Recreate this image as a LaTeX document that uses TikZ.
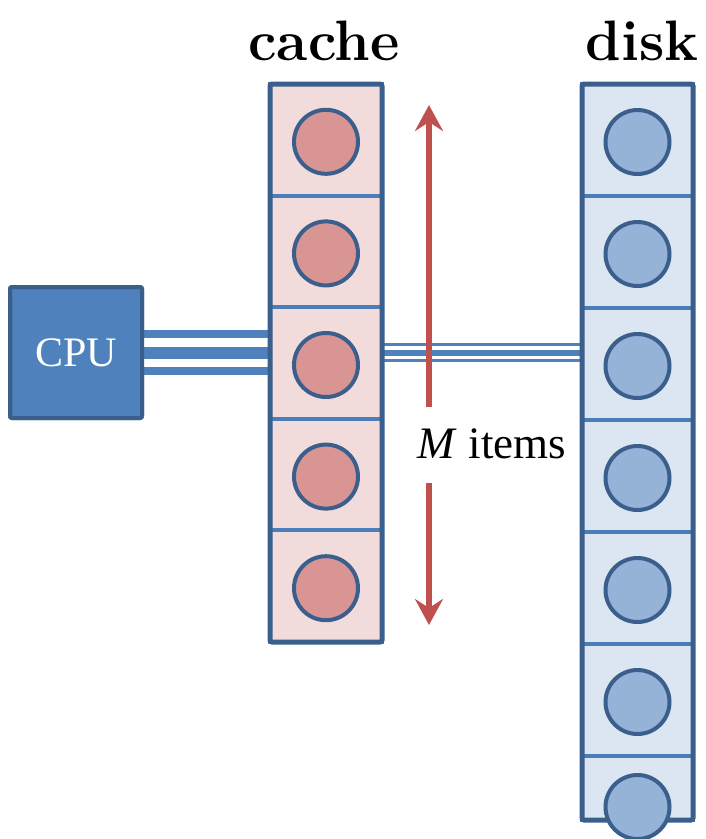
\documentclass[tikz,border=0pt]{standalone}
\usepackage{fontspec}
\newfontfamily\labelfont{Liberation Serif}
\usetikzlibrary{arrows.meta,fit}

\definecolor{frameblue}{HTML}{3B5F8C}
\definecolor{ruleblue}{HTML}{4A7EBB}
\definecolor{cpublue}{HTML}{4F81BD}
\definecolor{cachefill}{HTML}{F2DCDB}
\definecolor{cachedot}{HTML}{D99594}
\definecolor{diskfill}{HTML}{DCE6F2}
\definecolor{diskdot}{HTML}{95B3D7}
\definecolor{spanred}{HTML}{C0504D}

\begin{document}
\begin{tikzpicture}[x=1pt,y=-1pt,
  cachecell/.style={draw=ruleblue, fill=cachefill, line width=4pt,
    minimum width=112pt, minimum height=111.6pt, inner sep=0pt, outer sep=0pt},
  diskcell/.style={draw=ruleblue, fill=diskfill, line width=4pt,
    minimum width=111pt, minimum height=112pt, inner sep=0pt, outer sep=0pt},
  frame/.style={draw=frameblue, line width=5pt, rounded corners=2pt,
    inner sep=0pt, outer sep=0pt},
  dot/.style={circle, draw=frameblue, line width=4pt, minimum size=64pt,
    inner sep=0pt, outer sep=0pt},
  cachedotstyle/.style={dot, fill=cachedot},
  diskdotstyle/.style={dot, fill=diskdot},
  title/.style={font=\fontsize{57}{60}\selectfont\bfseries, anchor=base, inner sep=0pt},
  spanarrow/.style={draw=spanred, line width=5.5pt,
    -{Stealth[length=26pt,width=28pt,inset=9pt]}},
]
\useasboundingbox (0,0) rectangle (705,839);

% titles
\node[title] (cachetitle) at (324,60) {cache};
\node[title] (disktitle) at (642,60) {disk};

% cache cells
\foreach \i in {1,...,5} {
  \node[cachecell] (c\i) at (326, {84+55.8+111.6*(\i-1)}) {};
}
% disk cells (last one cut short)
\foreach \i in {1,...,6} {
  \node[diskcell] (d\i) at (637.5, {84+56+112*(\i-1)}) {};
}
\node[diskcell, minimum height=64pt] (d7) at (637.5,788) {};

% CPU
\node[draw=frameblue, fill=cpublue, line width=4pt, rounded corners=2pt,
  minimum width=132pt, minimum height=131pt, inner sep=0pt, outer sep=0pt,
  text=white, font=\labelfont\fontsize{42}{44}\selectfont] (cpu) at (76,352.5) {CPU};

% bus CPU -- cache (triple band)
\draw[cpublue, line width=45pt] (cpu.east) -- (cpu.east -| c1.west);
\draw[white, line width=29pt] (cpu.east) -- (cpu.east -| c1.west);
\draw[cpublue, line width=12pt] (cpu.east) -- (cpu.east -| c1.west);

% bus cache -- disk (thin triple band)
\draw[cpublue, line width=19pt] (cpu.east -| c1.east) -- (cpu.east -| d1.west);
\draw[white, line width=13pt] (cpu.east -| c1.east) -- (cpu.east -| d1.west);
\draw[cpublue, line width=6pt] (cpu.east -| c1.east) -- (cpu.east -| d1.west);

% outer frames
\node[frame, fit=(c1)(c5)] (cache) {};
\node[frame, fit=(d1)(d7)] (disk) {};
\draw[frameblue, line width=4pt, rounded corners=2pt]
  (cpu.south west) rectangle (cpu.north east);

% items
\foreach \i in {1,...,5} {
  \node[cachedotstyle] (cd\i) at ([yshift=-2pt]c\i.center) {};
}
\foreach \i in {1,...,6} {
  \node[diskdotstyle] (dd\i) at ([yshift=-2pt]d\i.center) {};
}
\node[diskdotstyle] (dd7) at ([yshift=-51pt]d7.north) {};

% M items span
\node[font=\labelfont\fontsize{45}{48}\selectfont, anchor=base, inner sep=0pt]
  (mtext) at (492,458) {\textit{M} items};
\coordinate (mup) at (429,407);
\coordinate (mtop) at (429,105);
\coordinate (mdn) at (429,483);
\coordinate (mbot) at (429,625);
\draw[spanarrow] (mup) -- (mtop);
\draw[spanarrow] (mdn) -- (mbot);
\end{tikzpicture}
\end{document}
